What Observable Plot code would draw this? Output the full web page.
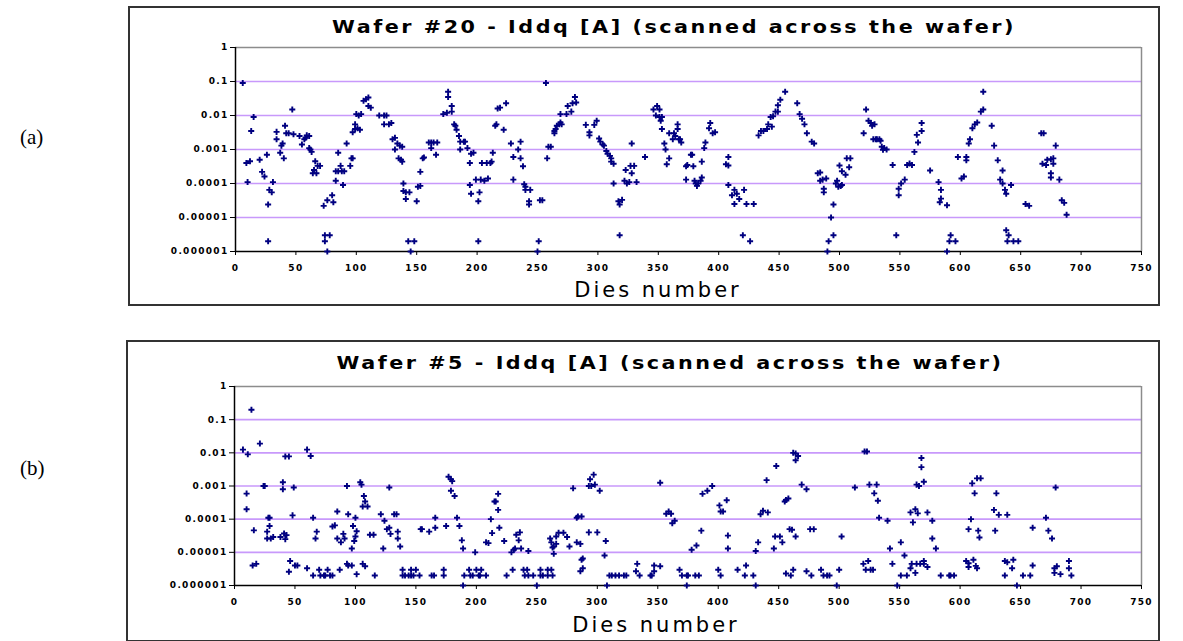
<!DOCTYPE html>
<html><head><meta charset="utf-8">
<script src="https://cdn.jsdelivr.net/npm/d3@7"></script>
<script src="https://cdn.jsdelivr.net/npm/@observablehq/plot@0.6"></script>
<style>
body{margin:0;background:#fff;width:1183px;height:641px;position:relative;overflow:hidden;font-family:"DejaVu Sans",sans-serif}
.frame{position:absolute;border:2px solid #333;box-sizing:border-box}
.title{position:absolute;transform:translate(-50%,-50%) scaleX(1.15);font-weight:bold;font-size:18px;letter-spacing:2.2px;white-space:nowrap;color:#000}
.xlabel{position:absolute;transform:translate(-50%,-50%);font-size:21px;white-space:nowrap;letter-spacing:3px;color:#000}
.tag{position:absolute;transform:translate(0,-50%);font-family:"Liberation Serif",serif;font-size:21px;color:#000}
.chart{position:absolute}
</style></head><body>
<div class="frame" style="left:128px;top:6px;width:1032px;height:300px"></div>
<div class="frame" style="left:126px;top:340px;width:1034px;height:302px"></div>
<div class="tag" style="left:20px;top:137px">(a)</div>
<div class="tag" style="left:20px;top:468px">(b)</div>
<div id="titleA" class="title" style="left:674px;top:26px"></div>
<div id="titleB" class="title" style="left:670px;top:362px"></div>
<div id="xlabA" class="xlabel" style="left:658px;top:290px"></div>
<div id="xlabB" class="xlabel" style="left:656px;top:625px"></div>
<div id="chartA" class="chart" style="left:128px;top:6px"></div>
<div id="chartB" class="chart" style="left:126px;top:340px"></div>
<script>
const titleA = "Wafer #20 - Iddq [A] (scanned across the wafer)";
const titleB = "Wafer #5 - Iddq [A] (scanned across the wafer)";
const xLabel = "Dies number";
const xTicks = [0,50,100,150,200,250,300,350,400,450,500,550,600,650,700,750];
const yTicks = [1,0.1,0.01,0.001,0.0001,0.00001,0.000001];
const yTickLabels = ["1","0.1","0.01","0.001","0.0001","0.00001","0.000001"];
const gridValues = [0.1,0.01,0.001,0.0001,0.00001];

// [die number, Iddq (A)]
const wafer20 = [
[6,0.09],[9,4e-4],[10,1.1e-4],[12,4.5e-4],[13,3.5e-3],[15,9e-3],[20,5e-4],[22,2.2e-4],[24,1.6e-4],[26,7e-4],
[27,2.4e-5],[27,2e-6],[28,6.5e-5],[30,5.5e-5],[31,1.1e-4],[34,3.3e-3],[34,2e-3],[37,8e-4],[38,1.3e-3],[39,1.5e-3],
[40,5.5e-4],[41,5e-3],[42,3e-3],[44,3e-3],[47,1.5e-2],[48,2.8e-3],[53,2.5e-3],[55,1.4e-3],[57,2e-3],[58,2.2e-3],
[59,2.6e-3],[61,2.5e-3],[61,1.1e-3],[62,1e-3],[63,8.5e-4],[64,2e-4],[65,2.5e-4],[66,4.5e-4],[67,2e-4],[68,3.3e-4],
[70,3.3e-4],[73,2.2e-5],[74,2e-6],[74,3e-6],[76,1e-6],[76,3.2e-5],[78,3e-6],[80,4.5e-5],[81,2.8e-5],[83,1.2e-4],
[83,2.3e-4],[85,8e-4],[85,2.3e-4],[87,3.3e-4],[88,2.3e-4],[89,9e-5],[90,2.3e-4],[92,1.5e-3],[95,3.3e-4],[96,5.5e-4],
[97,5.5e-4],[97,3.2e-3],[99,5.5e-3],[99,4e-3],[100,1.1e-2],[101,4.2e-3],[102,1e-2],[103,3.8e-3],[104,1.1e-2],[106,2.7e-2],
[108,3e-2],[110,3.4e-2],[110,1.9e-2],[112,1.7e-2],[119,1e-2],[123,1e-2],[123,5.5e-3],[125,1e-2],[127,5.5e-3],[129,6e-3],
[130,2e-3],[132,1e-3],[132,2.2e-3],[134,1.5e-3],[135,5.5e-4],[136,1.3e-3],[137,5e-4],[138,1.2e-3],[138,4.4e-4],[139,1e-4],
[139,6e-5],[141,3.5e-5],[141,5.5e-5],[144,5.5e-5],[143,2e-6],[145,1e-6],[148,2e-6],[150,3e-5],[151,8e-5],[153,8.5e-5],
[153,2.2e-4],[155,5.5e-4],[156,5.8e-4],[160,1.6e-3],[162,1.1e-3],[162,1.6e-3],[164,1.6e-3],[166,7e-4],[167,1.6e-3],[172,1.1e-2],
[175,1.2e-2],[176,5e-2],[176,3.5e-2],[179,1.9e-2],[179,1.3e-2],[181,5.5e-3],[182,5e-3],[183,3.8e-3],[185,2.5e-3],[186,1.7e-3],
[186,1e-3],[189,1.7e-3],[190,1.7e-3],[192,1.1e-3],[194,4e-4],[194,9e-5],[195,7.5e-4],[195,5e-5],[197,8e-4],[199,1.3e-4],
[201,3e-5],[201,2e-6],[202,5.5e-5],[203,1.3e-4],[204,4e-4],[206,1.2e-4],[208,4e-4],[209,1.4e-4],[211,4e-4],[212,4.4e-4],
[213,8e-4],[215,5e-3],[216,5.5e-3],[217,1.6e-2],[219,1.7e-2],[222,3.8e-3],[224,2.3e-2],[228,1.5e-3],[230,6e-4],[230,1.3e-4],
[234,1e-3],[236,1.7e-3],[236,5.5e-4],[238,3.2e-4],[239,9.5e-5],[240,8e-5],[240,6.5e-5],[243,3e-5],[243,2.4e-5],[244,6.5e-5],
[250,1e-6],[251,2e-6],[252,3.2e-5],[254,3.2e-5],[257,0.09],[258,5.5e-4],[259,1.2e-3],[261,1.2e-3],[264,3e-3],[264,3.5e-3],
[265,4e-3],[266,5e-3],[268,5.5e-3],[269,6.2e-3],[269,1.1e-2],[270,5.5e-3],[274,1.1e-2],[275,1.9e-2],[278,1.3e-2],[279,2.3e-2],
[281,3.5e-2],[282,2.4e-2],[290,5.3e-3],[293,3.2e-3],[293,2.6e-3],[297,5.3e-3],[299,7e-3],[301,2.1e-3],[302,1.7e-3],[304,1.4e-3],
[305,1.3e-3],[307,9e-4],[308,7.5e-4],[310,6.5e-4],[311,5.5e-4],[311,4.4e-4],[313,3.8e-4],[313,1e-4],[317,3e-5],[318,2.4e-5],
[318,3e-6],[320,3.3e-5],[322,1.2e-4],[323,2.5e-4],[324,1e-4],[326,1.1e-4],[327,3.3e-4],[328,1.5e-3],[328,2e-4],[330,3.3e-4],
[332,1.1e-4],[339,6e-4],[346,1.5e-2],[348,1e-2],[349,1.9e-2],[351,1.5e-2],[351,9e-3],[352,7e-3],[353,4e-3],[353,9e-3],
[355,1.5e-3],[356,1e-3],[357,3.7e-4],[359,5.5e-4],[359,3e-3],[362,2e-3],[363,3e-3],[364,2.5e-3],[366,4e-3],[366,5.5e-3],
[367,2e-3],[368,2e-3],[369,1.6e-3],[373,3.2e-4],[373,1.3e-4],[374,3.5e-4],[377,7e-4],[378,7e-4],[379,3.2e-4],[380,1.2e-4],
[381,1e-4],[382,8.5e-5],[383,1e-4],[385,1.2e-4],[386,1.5e-4],[386,4.4e-4],[388,1.1e-3],[389,1.6e-3],[392,4.2e-3],[393,6e-3],
[395,3e-3],[397,3.2e-3],[406,3.7e-4],[408,6e-4],[408,3.4e-4],[408,9e-5],[411,4.5e-5],[413,6.5e-5],[413,2.5e-5],[415,5e-5],
[417,3.5e-5],[420,3e-6],[421,6.5e-5],[423,2.5e-5],[426,2e-6],[429,2.5e-5],[433,2.6e-3],[435,3.5e-3],[437,3.5e-3],[440,4e-3],
[441,5.5e-3],[443,9e-3],[444,4.7e-3],[445,9.5e-3],[447,1.3e-2],[449,1.3e-2],[449,2e-2],[451,2.9e-2],[455,5e-2],[465,2.3e-2],
[467,1.1e-2],[469,8e-3],[471,5.5e-3],[473,3e-3],[477,1.7e-3],[479,1.5e-3],[482,2e-4],[484,2.1e-4],[484,1.2e-4],[486,1.3e-4],
[487,7e-5],[487,5.5e-5],[489,1.4e-4],[490,1e-6],[491,2e-6],[493,1e-5],[495,2.4e-5],[495,3e-6],[497,1e-4],[498,1.2e-4],
[499,8e-5],[500,3.4e-4],[501,8.5e-5],[502,9e-5],[502,2.3e-4],[505,1.8e-4],[506,5.5e-4],[508,3e-4],[509,5.5e-4],[520,3e-3],
[522,1.5e-2],[524,7e-3],[526,6e-3],[527,5e-3],[528,2e-3],[529,5.5e-3],[530,2e-3],[531,2e-3],[533,2e-3],[534,1.8e-3],
[535,1.2e-3],[536,9.8e-4],[537,1.1e-3],[539,1e-3],[544,3.5e-4],[547,3e-6],[549,7e-5],[549,4.5e-5],[551,1e-4],[554,1.3e-4],
[556,3.5e-4],[558,3.9e-4],[560,3.5e-4],[562,8.5e-4],[564,2.7e-3],[565,1.6e-3],[568,3.5e-3],[568,6e-3],[575,2.4e-4],[582,1.1e-4],
[583,2.8e-5],[584,6.5e-5],[584,3.6e-5],[589,2.3e-5],[589,1e-6],[591,2e-6],[592,3e-6],[596,2e-6],[598,6e-4],[601,1.4e-4],
[603,1.6e-4],[605,6e-4],[605,4.8e-4],[607,1.5e-3],[608,2e-3],[610,4.2e-3],[612,5.5e-3],[614,6.2e-3],[617,1.3e-2],[619,1.5e-2],
[619,5e-2],[626,5e-3],[628,1.3e-3],[631,4.8e-4],[633,1.3e-4],[635,2.4e-4],[635,1e-4],[637,6.5e-5],[638,5e-5],[638,4.2e-6],
[639,2e-6],[640,3e-6],[642,9e-5],[644,2e-6],[648,2e-6],[654,2.5e-5],[657,2.2e-5],[667,3e-3],[668,3.8e-4],[669,3e-3],
[671,3.5e-4],[672,5e-4],[675,5.2e-4],[675,2e-4],[675,1.5e-4],[677,5.5e-4],[677,3.8e-4],[679,1.3e-3],[682,1.3e-4],[684,3.2e-5],
[686,2.7e-5],[688,1.2e-5]
];

const wafer5 = [
[7,1.25e-2],[10,5.9e-4],[10,2e-4],[11,9e-3],[14,0.2],[15,4e-6],[16,4.6e-5],[18,4.5e-6],[21,1.9e-2],[24,1e-3],
[25,1e-3],[27,4.2e-5],[27,2.6e-5],[28,1.1e-4],[29,6.2e-5],[29,1.1e-4],[30,2.6e-5],[32,2.9e-5],[38,2.9e-5],[40,1.3e-3],
[40,8e-4],[41,3.7e-5],[42,2.5e-5],[42,7.8e-3],[43,3.3e-5],[45,7.8e-3],[45,2.6e-6],[46,5.5e-6],[48,1.3e-4],[49,9e-4],
[50,4e-6],[52,4e-6],[60,3.3e-6],[60,1.25e-2],[63,8e-3],[65,1.1e-4],[65,2e-6],[67,2.6e-5],[68,4.2e-5],[70,3e-6],
[71,2e-6],[74,2e-6],[75,2e-6],[77,3e-6],[79,2e-6],[81,2e-6],[81,6e-5],[83,6.5e-5],[85,1.7e-4],[85,2.6e-5],
[87,3e-6],[88,2e-5],[90,3.6e-5],[91,2.6e-5],[93,1e-3],[93,4.5e-6],[94,1.4e-4],[94,4e-6],[97,4e-6],[97,1.3e-5],
[98,6.2e-5],[99,2.2e-5],[100,1.1e-4],[100,3e-5],[101,4.3e-5],[101,2.2e-6],[104,1.3e-3],[105,1.1e-3],[106,2.4e-4],[106,4.5e-6],
[107,5e-4],[108,3.4e-4],[108,3.8e-6],[110,2.4e-4],[112,3.4e-5],[115,3.4e-5],[116,2e-6],[121,1.4e-4],[123,1.3e-5],[124,9e-5],
[126,5e-5],[128,5.5e-5],[128,9e-4],[129,3.6e-5],[132,1.4e-4],[134,1.4e-4],[135,4.2e-5],[135,2.6e-5],[137,1.5e-5],[139,3e-6],
[139,2e-6],[141,2e-6],[144,2e-6],[146,2e-6],[146,3e-6],[148,2e-6],[150,3e-6],[153,2e-6],[154,5e-5],[155,5e-5],
[161,4.2e-5],[163,2e-6],[165,2e-6],[166,5.5e-5],[166,1.1e-4],[173,3e-6],[173,2e-6],[175,6.2e-5],[177,1.9e-3],[179,1.6e-3],
[179,7.2e-4],[180,1.4e-3],[182,5e-4],[184,1.1e-4],[186,6.2e-5],[188,2.3e-5],[189,1.3e-5],[189,1e-6],[190,2e-6],[194,3e-6],
[195,2e-6],[197,2e-6],[199,1e-5],[200,3e-6],[202,2e-6],[203,2e-6],[204,3e-6],[208,2e-6],[208,2e-5],[210,1.9e-5],
[212,1e-4],[213,3.8e-5],[215,3.4e-4],[216,3.4e-4],[218,1.9e-4],[218,5.8e-4],[219,5.5e-5],[223,2.2e-5],[225,2e-6],[229,1e-5],
[230,3e-6],[231,1.2e-5],[232,1.3e-5],[233,3.4e-5],[235,2.3e-5],[236,4e-5],[237,1.3e-5],[239,3e-6],[240,2e-6],[242,3e-6],
[243,2e-6],[243,1.1e-5],[247,2e-6],[250,1e-6],[253,3e-6],[253,2e-6],[255,2e-6],[259,3e-6],[259,2e-6],[261,2.6e-5],
[262,3e-6],[262,2e-5],[263,2e-6],[263,1.4e-5],[264,1.5e-5],[264,9e-6],[266,1.8e-5],[266,3e-5],[268,3.9e-5],[272,3.9e-5],
[275,2.9e-5],[277,1.5e-5],[280,8.5e-4],[283,1.1e-4],[283,2e-5],[284,1.2e-4],[286,1.8e-5],[286,2.7e-6],[287,1.2e-4],[287,6e-6],
[288,6.5e-6],[288,3.3e-6],[293,1e-3],[293,4e-5],[294,1.6e-3],[295,1e-3],[297,2.2e-3],[298,1.1e-3],[300,4e-5],[302,7.2e-4],
[306,8e-6],[307,2.2e-5],[308,1e-6],[310,2e-6],[312,2e-6],[315,2e-6],[318,2e-6],[322,2e-6],[324,2e-6],[332,2.7e-6],
[333,4.5e-6],[335,2e-6],[344,2e-6],[345,2e-6],[347,4e-6],[347,2.7e-6],[352,3.8e-6],[352,1.25e-3],[357,1.45e-4],[359,1.7e-4],
[361,1.45e-4],[362,7.5e-5],[364,9e-5],[368,3e-6],[370,2e-6],[374,2e-6],[374,1e-6],[375,2e-6],[378,1.2e-5],[381,2e-6],
[382,1.6e-5],[384,2e-6],[386,4.5e-5],[387,5.8e-4],[391,7.2e-4],[395,1e-3],[400,3e-6],[401,2.6e-4],[402,2e-6],[402,1.7e-4],
[404,1.7e-4],[407,3.7e-4],[408,3.2e-5],[408,1.3e-5],[416,3e-6],[422,2e-6],[423,4e-6],[429,2e-6],[431,1e-6],[431,1.1e-5],
[433,2e-5],[435,1.4e-4],[437,1.8e-4],[440,1.5e-3],[441,1.6e-4],[446,1.3e-5],[447,3e-5],[448,4e-3],[451,3e-5],[453,2e-5],
[455,3.4e-4],[456,3.8e-4],[456,2.3e-6],[458,4.2e-4],[459,5e-5],[460,2e-6],[461,4.8e-5],[462,1e-2],[462,3e-6],[464,3e-5],
[464,9.5e-3],[464,6e-3],[466,8e-3],[469,1.1e-3],[473,8e-4],[473,2.7e-6],[476,5e-5],[477,2e-6],[479,5e-5],[485,3e-6],
[487,2e-6],[490,2e-6],[492,2e-6],[498,1e-6],[500,3e-6],[502,3e-5],[513,9e-4],[520,4.5e-6],[521,1.1e-2],[522,3e-6],
[523,1.1e-2],[524,5.5e-6],[525,1.1e-3],[526,3e-6],[528,3e-6],[529,6e-4],[531,1.1e-3],[532,3.6e-4],[533,1.1e-4],[540,9e-5],
[542,1.3e-5],[544,4.5e-6],[548,1e-6],[551,2e-5],[551,2e-6],[554,8e-6],[556,2e-6],[559,3.3e-6],[559,1.6e-4],[560,4.5e-6],
[561,8e-5],[563,2e-4],[563,2.4e-6],[564,4.5e-6],[564,1.1e-3],[565,1.5e-4],[566,1e-3],[567,4.5e-6],[568,7e-3],[568,3.7e-3],
[570,1.35e-3],[570,5.5e-6],[570,4.5e-6],[573,3.6e-6],[573,1.6e-4],[577,9e-5],[577,2.6e-5],[580,1.3e-5],[584,2e-6],[591,2e-6],
[592,2e-6],[595,2e-6],[605,5.5e-6],[607,5e-5],[607,4.7e-6],[607,3.6e-6],[609,1e-4],[610,1.2e-3],[611,6e-6],[612,6e-4],
[613,3.9e-6],[614,3.3e-6],[614,1.7e-3],[615,4.5e-5],[616,2.8e-5],[617,1.7e-3],[628,1.9e-4],[629,4.5e-5],[630,6e-4],[632,1.35e-4],
[637,5.5e-6],[637,2e-6],[639,1.35e-4],[639,5e-6],[643,3.3e-6],[644,6e-6],[647,1e-6],[652,2e-6],[658,2e-6],[660,4e-6],
[660,5.5e-5],[671,1.1e-4],[673,4.5e-5],[676,2.6e-5],[678,3.3e-6],[678,2.4e-6],[679,9e-4],[680,3.8e-6],[683,2.2e-6],[690,3.3e-6],
[690,5.5e-6],[692,2e-6]
];

function panel(pairs, w, h, m) {
  const rows = pairs.map(([die, iddq]) => ({die, iddq}));
  return Plot.plot({
    width: w, height: h,
    marginLeft: m[0], marginRight: m[1], marginTop: m[2], marginBottom: m[3],
    style: {fontFamily: "DejaVu Sans, sans-serif", fontWeight: "bold", color: "#000", background: "transparent", overflow: "visible"},
    x: {domain: [0, 750]},
    y: {type: "log", domain: [1e-6, 1]},
    marks: [
      Plot.ruleY(gridValues, {stroke: "#c899fb", strokeWidth: 1.6}),
      Plot.ruleY([1], {stroke: "#8c8c8c", strokeWidth: 1.5}),
      Plot.ruleX([750], {stroke: "#8c8c8c", strokeWidth: 1.5}),
      Plot.ruleX([0], {stroke: "#000", strokeWidth: 1.5}),
      Plot.ruleY([1e-6], {stroke: "#000", strokeWidth: 1.5}),
      Plot.axisX({ticks: xTicks, tickSize: 4, tickPadding: 9, label: null, fontSize: 9, stroke: "#000", tickFormat: d => String(d)}),
      Plot.axisY({ticks: yTicks, tickSize: 5, tickPadding: 2, label: null, fontSize: 9,
        tickFormat: d => yTickLabels[yTicks.indexOf(d)]}),
      Plot.dot(rows, {x: "die", y: "iddq", symbol: "plus", r: 2.1, stroke: "#000080", strokeWidth: 1.9})
    ]
  });
}

document.getElementById("titleA").textContent = titleA;
document.getElementById("titleB").textContent = titleB;
document.getElementById("xlabA").textContent = xLabel;
document.getElementById("xlabB").textContent = xLabel;
document.getElementById("chartA").append(panel(wafer20, 1032, 300, [107, 19, 41, 55]));
document.getElementById("chartB").append(panel(wafer5, 1034, 300, [108, 19, 46, 55]));
document.querySelectorAll(".chart svg text").forEach(t => t.setAttribute("letter-spacing", "1.3"));
</script>
</body></html>
